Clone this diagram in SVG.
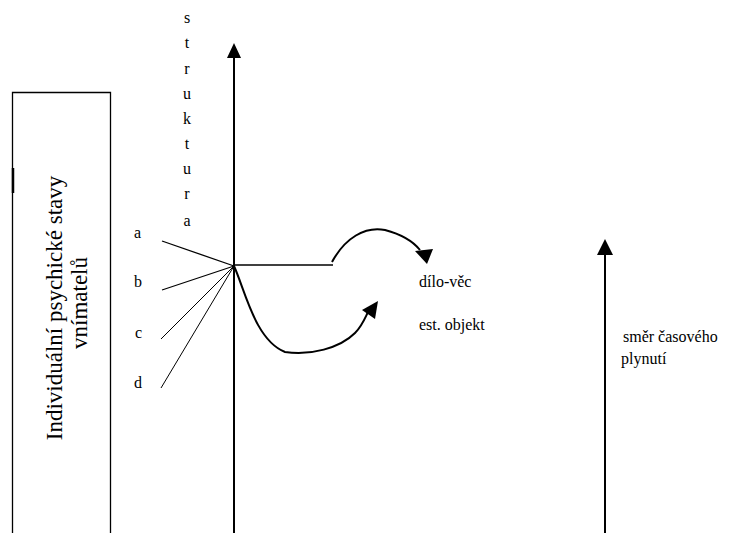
<svg xmlns="http://www.w3.org/2000/svg" width="754" height="533" viewBox="0 0 754 533">
<style>
.ln{stroke:#000;fill:none}
.t16{font-family:'Times New Roman','Liberation Serif',serif;font-size:16px}
.t23{font-family:'Times New Roman','Liberation Serif',serif;font-size:23px}
</style>
<rect width="754" height="533" fill="#fff"/>
<g id="box">
<path d="M12.5,533 V92.5 H110.5 V533" class="ln" stroke-width="1.3"/>
<line x1="13" y1="168" x2="13" y2="193" stroke="#000" stroke-width="2.5"/>
<text class="t23" style="font-family:'Times New Roman',serif" text-anchor="middle" transform="translate(62,308) rotate(-90)">Individuální psychické stavy</text>
<text class="t23" style="font-family:'Times New Roman',serif" text-anchor="middle" transform="translate(87,303) rotate(-90)">vnímatelů</text>
</g>
<g id="axis-struktura">
<line x1="234" y1="56" x2="234" y2="533" class="ln" stroke-width="2"/>
<path d="M227,58 L234,43 L241,58 Z" fill="#000"/>
<text class="t16" style="font-family:'Times New Roman',serif" text-anchor="middle"><tspan x="187" y="23">s</tspan><tspan x="187" y="48">t</tspan><tspan x="187" y="74">r</tspan><tspan x="187" y="99">u</tspan><tspan x="187" y="124">k</tspan><tspan x="187" y="149">t</tspan><tspan x="187" y="174">u</tspan><tspan x="187" y="199">r</tspan><tspan x="187" y="226">a</tspan></text>
</g>
<g id="labels-abcd">
<text class="t16" style="font-family:'Times New Roman',serif" x="134" y="238">a</text>
<text class="t16" style="font-family:'Times New Roman',serif" x="134" y="287">b</text>
<text class="t16" style="font-family:'Times New Roman',serif" x="135" y="338">c</text>
<text class="t16" style="font-family:'Times New Roman',serif" x="134" y="388">d</text>
</g>
<g id="connectors">
<line x1="162" y1="241" x2="234" y2="266" class="ln" stroke-width="1.3"/>
<line x1="162" y1="290" x2="234" y2="266" class="ln" stroke-width="1.3"/>
<line x1="161" y1="339" x2="234" y2="266" class="ln" stroke-width="1"/>
<line x1="161" y1="388" x2="234" y2="266" class="ln" stroke-width="1"/>
<line x1="234" y1="265" x2="333" y2="265" class="ln" stroke-width="1.3"/>
<path d="M332,262 C345,238 365,226 385,230 C400,234 412,240 420,250" class="ln" stroke-width="2"/>
<path d="M415,251 L433,249 L427,264 Z" fill="#000"/>
<path d="M234,266 C245,290 255,340 285,352 C310,356 340,348 355,333 C362,326 365,318 368,312" class="ln" stroke-width="2"/>
<path d="M362,310 L378,301 L375,319 Z" fill="#000"/>
</g>
<g id="dilo-vec"><text class="t16" style="font-family:'Times New Roman',serif" x="419" y="287">dílo-věc</text></g>
<g id="est-objekt"><text class="t16" style="font-family:'Times New Roman',serif" x="419" y="330">est. objekt</text></g>
<g id="time-axis">
<line x1="605" y1="253" x2="605" y2="533" class="ln" stroke-width="2"/>
<path d="M597,255 L605,239 L613,255 Z" fill="#000"/>
<text class="t16" style="font-family:'Times New Roman',serif" x="623" y="342">směr časového</text>
<text class="t16" style="font-family:'Times New Roman',serif" x="621" y="364">plynutí</text>
</g>
</svg>
